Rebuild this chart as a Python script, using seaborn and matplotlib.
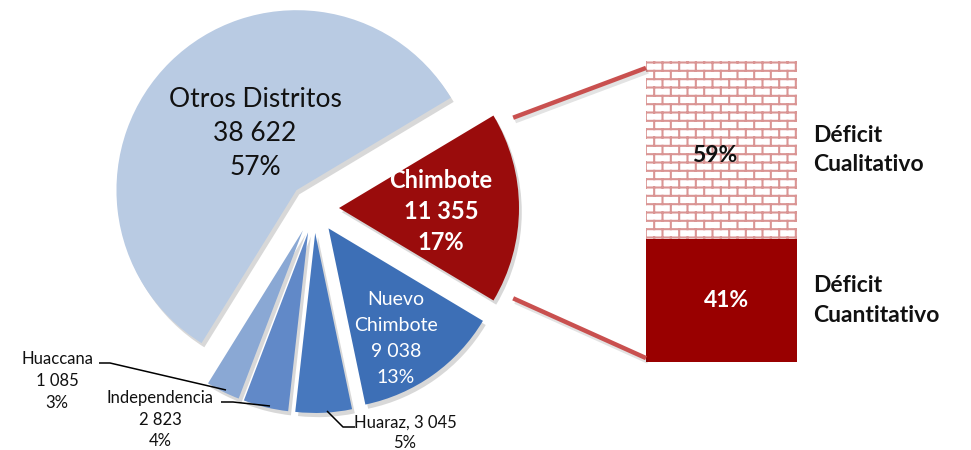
import warnings
import numpy as np
import matplotlib
matplotlib.use("Agg")
import matplotlib.pyplot as plt
import matplotlib.hatch as mhatch
import matplotlib.patheffects as pe
from matplotlib.patches import ConnectionPatch
import seaborn as sns

warnings.filterwarnings("ignore", message=".*hatch must consist.*")

sns.set_theme(style="white")
plt.rcParams["font.family"] = ["Lato", "DejaVu Sans"]
plt.rcParams["hatch.linewidth"] = 1.5

# data
districts = ["Chimbote", "Nuevo Chimbote", "Huaraz", "Independencia", "Huaccana", "Otros Distritos"]
viviendas = [11355, 9038, 3045, 2823, 1085, 38622]
shares = [17, 13, 5, 4, 3, 57]

deficit_types = ["Déficit Cuantitativo", "Déficit Cualitativo"]
deficit_shares = [41, 59]

slice_colors = ["#9A0C0C", "#3D6FB6", "#4778BE", "#6189C8", "#8AA8D4", "#B9CBE3"]
BRICK = "#DA9594"
LINK = "#C9504F"

W, H = 971, 450


class BrickHatch(mhatch.HatchPatternBase):
    """brick pattern for hatch char 'b'"""

    def __init__(self, hatch, density):
        n = hatch.count("b")
        self.rows = int(2 * n * density)
        self.cols = int(n * density)
        self.num_vertices = (2 * self.rows + 2 * (self.rows + 1) * self.cols) if n else 0

    def set_vertices_and_codes(self, vertices, codes):
        r, c = self.rows, self.cols
        ys = (np.arange(r) + 0.5) / r
        segs = [((0.0, y), (1.0, y)) for y in ys]
        for i in range(r):
            off = 0.25 + 0.5 * (i % 2)
            for j in range(c):
                x = (j + off) / c
                if i < r - 1:
                    segs.append(((x, ys[i]), (x, ys[i + 1])))
                else:
                    segs.append(((x, ys[i]), (x, 1.0)))
                    segs.append(((x, 0.0), (x, ys[0])))
        pts = np.array(segs).reshape(-1, 2)
        vertices[:] = pts
        codes[0::2] = mhatch.Path.MOVETO
        codes[1::2] = mhatch.Path.LINETO


mhatch._hatch_types.append(BrickHatch)


def fmt(v):
    return f"{v:,}".replace(",", " ")


fig = plt.figure(figsize=(W / 100, H / 100), dpi=100)
ax = fig.add_axes([0, 0, 1, 1])

start = shares[0] / sum(shares) * 180
wedges, _ = ax.pie(shares, colors=slice_colors, startangle=start, counterclock=False,
                   center=(314, H - 208), radius=180, explode=[25] * len(shares),
                   wedgeprops=dict(linewidth=0))
for w in wedges:
    w.set_path_effects([pe.SimplePatchShadow(offset=(2, -3), shadow_rgbFace="#7F7F7F", alpha=0.3),
                        pe.Normal()])
ax.set_xlim(0, W)
ax.set_ylim(0, H)
ax.set_axis_off()


def stack(x, y, lines, step, **kw):
    for k, line in enumerate(lines):
        ax.text(x, H - (y + k * step), line, ha="center", va="center_baseline", **kw)


# labels inside slices
stack(255, 97, [districts[5], fmt(viviendas[5]), f"{shares[5]}%"], 34,
      fontsize=19, color="#111111")
stack(441, 178, [districts[0], fmt(viviendas[0]), f"{shares[0]}%"], 31.5,
      fontsize=17, fontweight="bold", color="white")
stack(396, 298, districts[1].split(" ") + [fmt(viviendas[1]), f"{shares[1]}%"], 26,
      fontsize=14, color="white")

# outside labels with leader lines
small = dict(fontsize=12, color="#111111")
stack(57, 358, [districts[4], fmt(viviendas[4]), f"{shares[4]}%"], 22, **small)
stack(160, 397, [districts[3], fmt(viviendas[3]), f"{shares[3]}%"], 21.5, **small)
stack(405, 421, [f"{districts[2]}, {fmt(viviendas[2])}", f"{shares[2]}%"], 20.5, **small)

leaders = [([99, 110, 226], [363, 363, 390]),
           ([221, 233, 270], [402, 402, 406]),
           ([327, 343, 355], [411, 427, 427])]
for lx, ly in leaders:
    ax.plot(lx, [H - v for v in ly], color="black", lw=1.1, solid_capstyle="butt")

# stacked bar of Chimbote deficit
bx = fig.add_axes([646 / W, (H - 362) / H, (797 - 646) / W, 301 / H])
bottoms = np.concatenate([[0], np.cumsum(deficit_shares)[:-1]])
bars = bx.bar([0, 0], deficit_shares, bottom=bottoms, width=1.0,
              color=["#990000", "white"], linewidth=0)
bars[1].set_edgecolor(BRICK)
bars[1].set_linewidth(0)
bars[1].set_hatch("b")
bx.set_xlim(-0.5, 0.5)
bx.set_ylim(0, sum(deficit_shares))
bx.set_axis_off()

for b, share, tc, dx, fy in zip(bars, deficit_shares, ["white", "#111111"], [0.036, -0.043], [0.5, 0.47]):
    bx.text(dx, b.get_y() + b.get_height() * fy, f"{share}%",
            ha="center", va="center", fontsize=16.5, fontweight="bold", color=tc)

for b, name, fy in zip(bars, deficit_types, [0.5, 0.5]):
    words = name.split(" ")
    yc = b.get_y() + b.get_height() * fy
    y_fig = bx.transData.transform((0, yc))[1] / (fig.dpi * H / 100)
    fig.text(813 / W, y_fig, "\n".join(words),
             ha="left", va="center", fontsize=16.5, fontweight="bold", color="#111111",
             linespacing=1.5)

# connector lines from Chimbote slice to the bar
chim = wedges[0]
cx, cy = chim.center
for ang, yb in [(chim.theta2 - 3.5, sum(deficit_shares) - 2.3), (chim.theta1 + 3.5, 1.3)]:
    r = chim.r * 1.09
    p = (cx + r * np.cos(np.radians(ang)), cy + r * np.sin(np.radians(ang)))
    con = ConnectionPatch(xyA=p, coordsA=ax.transData, xyB=(-0.5, yb), coordsB=bx.transData,
                          color=LINK, lw=3.2, capstyle="butt")
    con.set_path_effects([pe.SimpleLineShadow(offset=(1.5, -2.5), alpha=0.12), pe.Normal()])
    fig.add_artist(con)

fig.savefig("out.png", dpi=100, facecolor="white")
